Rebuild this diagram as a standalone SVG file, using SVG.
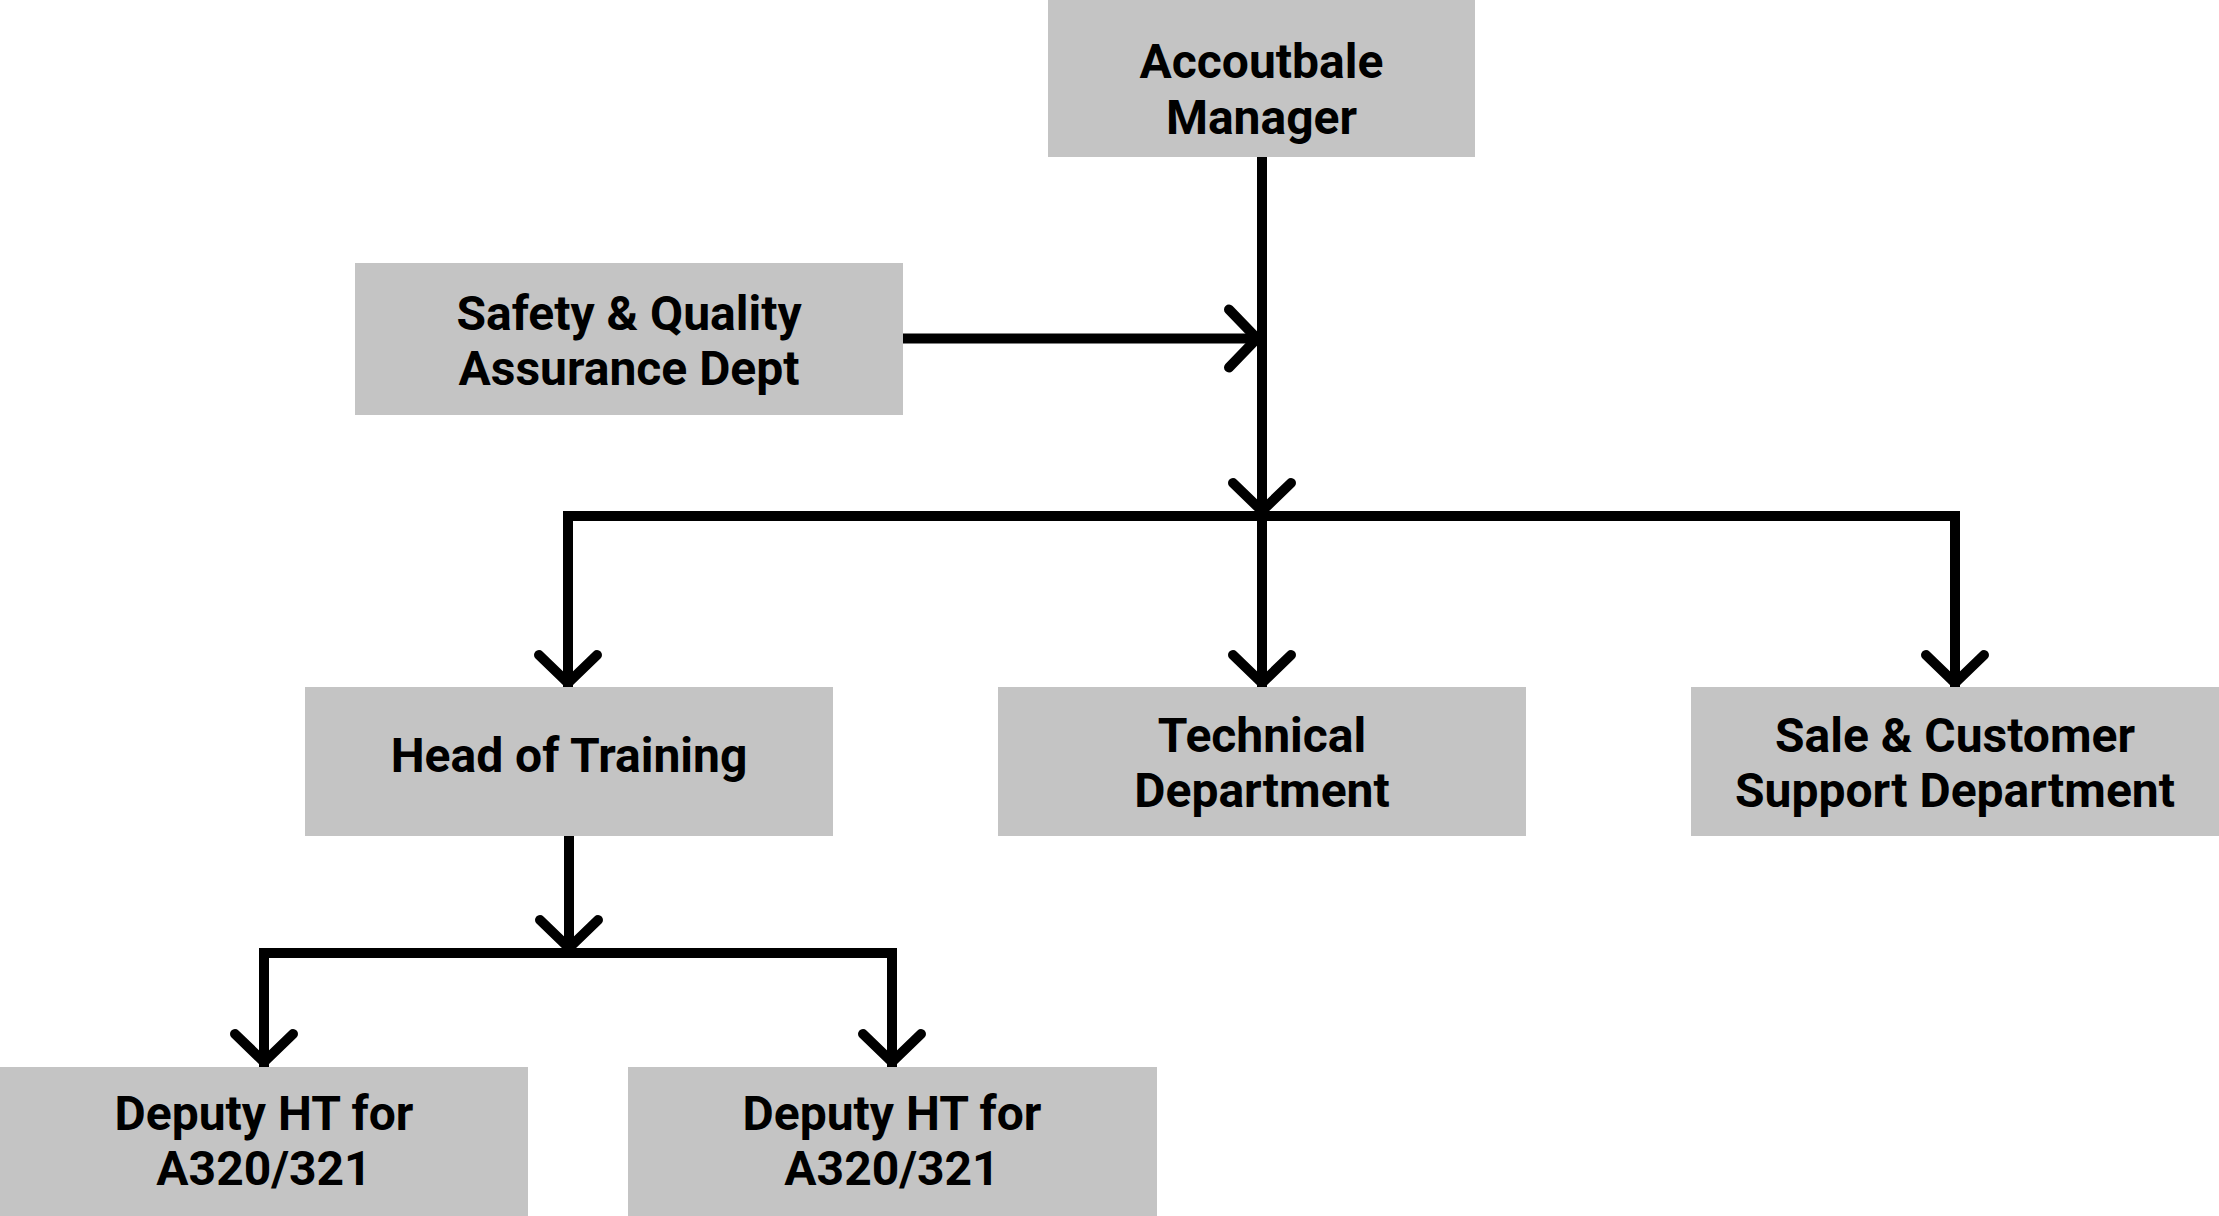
<svg xmlns="http://www.w3.org/2000/svg" width="2219" height="1216" viewBox="0 0 2219 1216">
  <style>
    .box { fill: #c4c4c4; }
    .lbl { font-family: Roboto, "Liberation Sans", sans-serif; font-weight: 700; font-size: 48px; fill: #000; text-anchor: middle; }
    .edge { fill: none; stroke: #000; stroke-width: 10; stroke-linejoin: miter; stroke-linecap: butt; }
  </style>
  <defs>
    <marker id="arr" markerUnits="userSpaceOnUse" viewBox="-50 -50 100 100" markerWidth="100" markerHeight="100" refX="0" refY="0" orient="auto" overflow="visible">
      <path d="M-33,-29 L-5,0 L-33,29" fill="none" stroke="#000" stroke-width="10" stroke-linecap="round" stroke-linejoin="round"/>
    </marker>
  </defs>
  <rect width="2219" height="1216" fill="#fff"/>

  <g id="connectors">
    <path class="edge" d="M1262,157 V516" marker-end="url(#arr)"/>
    <path class="edge" d="M903,338.5 H1262" marker-end="url(#arr)"/>
    <path class="edge" d="M1262,516 H568 V688" marker-end="url(#arr)"/>
    <path class="edge" d="M1262,516 V688" marker-end="url(#arr)"/>
    <path class="edge" d="M1262,516 H1955 V688" marker-end="url(#arr)"/>
    <path class="edge" d="M569,836 V953" marker-end="url(#arr)"/>
    <path class="edge" d="M569,953 H264 V1067" marker-end="url(#arr)"/>
    <path class="edge" d="M569,953 H892 V1067" marker-end="url(#arr)"/>
  </g>

  <g id="accountable-manager">
    <rect class="box" x="1048" y="-10" width="427" height="167"/>
    <text class="lbl" x="1261.5" y="78">Accoutbale</text>
    <text class="lbl" x="1261.5" y="134">Manager</text>
  </g>
  <g id="safety-quality">
    <rect class="box" x="355" y="263" width="548" height="152"/>
    <text class="lbl" x="629" y="330">Safety &amp; Quality</text>
    <text class="lbl" x="629" y="385">Assurance Dept</text>
  </g>
  <g id="head-of-training">
    <rect class="box" x="305" y="687" width="528" height="149"/>
    <text class="lbl" x="569" y="772">Head of Training</text>
  </g>
  <g id="technical-department">
    <rect class="box" x="998" y="687" width="528" height="149"/>
    <text class="lbl" x="1262" y="752">Technical</text>
    <text class="lbl" x="1262" y="807">Department</text>
  </g>
  <g id="sale-customer-support">
    <rect class="box" x="1691" y="687" width="540" height="149"/>
    <text class="lbl" x="1955" y="752">Sale &amp; Customer</text>
    <text class="lbl" x="1955" y="807">Support Department</text>
  </g>
  <g id="deputy-1">
    <rect class="box" x="-10" y="1067" width="538" height="160"/>
    <text class="lbl" x="264" y="1130">Deputy HT for</text>
    <text class="lbl" x="264" y="1185">A320/321</text>
  </g>
  <g id="deputy-2">
    <rect class="box" x="628" y="1067" width="529" height="160"/>
    <text class="lbl" x="892" y="1130">Deputy HT for</text>
    <text class="lbl" x="892" y="1185">A320/321</text>
  </g>
</svg>
